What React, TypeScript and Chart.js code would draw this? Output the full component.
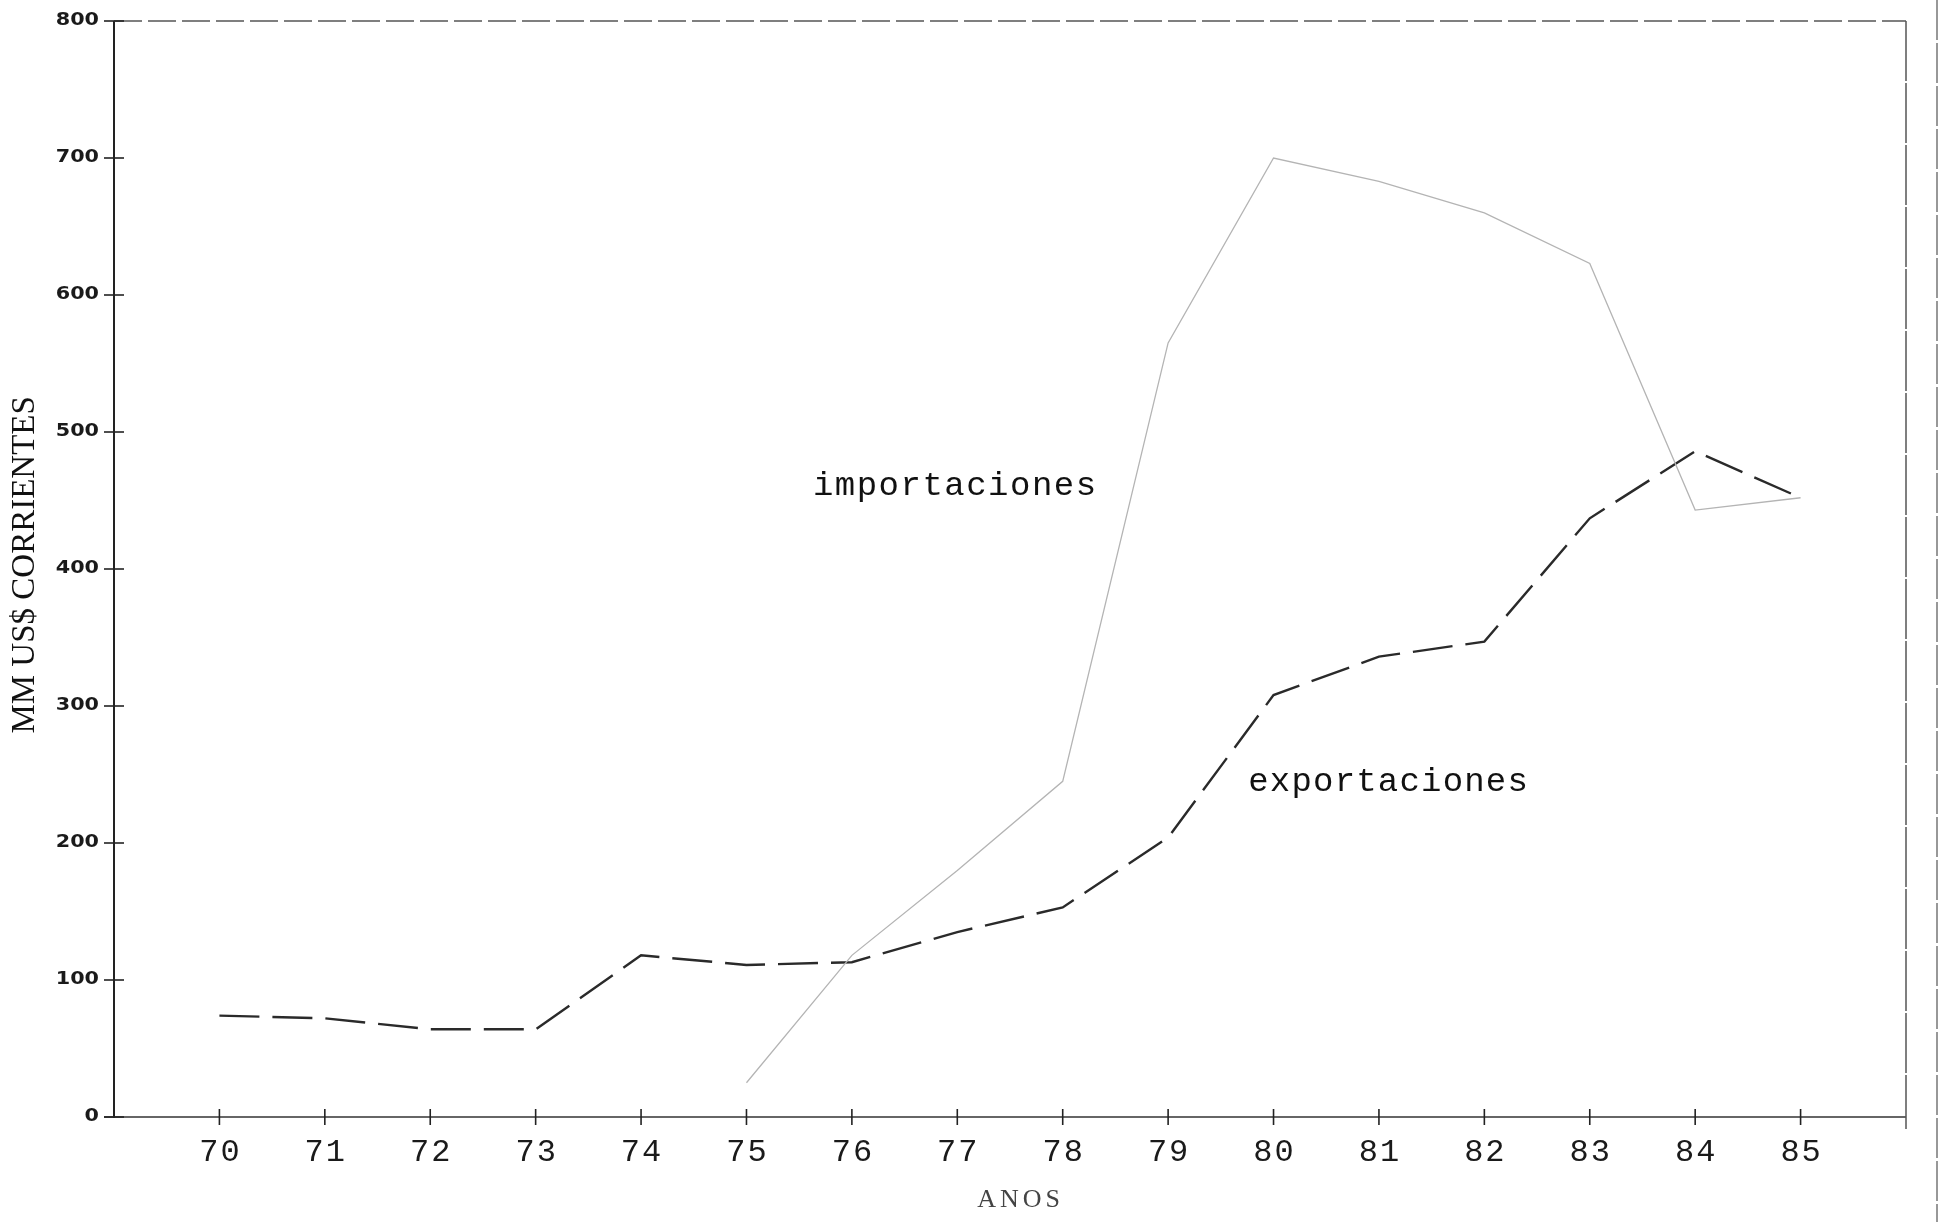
import React, { useEffect, useRef } from 'react';
import { Chart, registerables } from 'chart.js';

Chart.register(...registerables);

// ---- data ----
const years = [70, 71, 72, 73, 74, 75, 76, 77, 78, 79, 80, 81, 82, 83, 84, 85];
const yearLabels = ['70', '71', '72', '73', '74', '75', '76', '77', '78', '79', '80', '81', '82', '83', '84', '85'];
const exportaciones = [74, 72, 64, 64, 118, 111, 113, 135, 153, 204, 308, 336, 347, 437, 486, 452];
const importaciones: (number | null)[] = [null, null, null, null, null, 25, 118, 180, 245, 565, 700, 683, 660, 623, 443, 452];
const yTicks = [0, 100, 200, 300, 400, 500, 600, 700, 800];
const yTickLabels = ['0', '100', '200', '300', '400', '500', '600', '700', '800'];
const seriesNames = ['importaciones', 'exportaciones'];
const yTitle = 'MM US$ CORRIENTES';
const xTitle = 'ANOS';

const W = 1944;
const H = 1222;

const framePlugin = {
  id: 'framePlugin',
  beforeDatasetsDraw(chart: any) {
    const ctx = chart.ctx as CanvasRenderingContext2D;
    const xs = chart.scales.x;
    const ys = chart.scales.y;
    const left = xs.getPixelForValue(69);
    const right = xs.getPixelForValue(86);
    const top = ys.getPixelForValue(800);
    const bottom = ys.getPixelForValue(0);
    ctx.save();
    ctx.lineCap = 'butt';
    // left axis
    ctx.strokeStyle = '#222';
    ctx.lineWidth = 2;
    ctx.beginPath();
    ctx.moveTo(left, top);
    ctx.lineTo(left, bottom + 1);
    ctx.stroke();
    // bottom axis
    ctx.strokeStyle = '#333';
    ctx.lineWidth = 1.6;
    ctx.beginPath();
    ctx.moveTo(left - 10, bottom);
    ctx.lineTo(right, bottom);
    ctx.stroke();
    // top border (dashed)
    ctx.strokeStyle = '#555';
    ctx.lineWidth = 1.3;
    ctx.setLineDash([28, 6]);
    ctx.beginPath();
    ctx.moveTo(left, top);
    ctx.lineTo(right, top);
    ctx.stroke();
    // right border
    ctx.setLineDash([60, 2]);
    ctx.lineWidth = 1.5;
    ctx.beginPath();
    ctx.moveTo(right, top);
    ctx.lineTo(right, bottom + 12);
    ctx.stroke();
    ctx.setLineDash([]);
    // outer frame line of the page
    ctx.strokeStyle = '#777';
    ctx.lineWidth = 1.5;
    ctx.setLineDash([40, 3]);
    ctx.beginPath();
    ctx.moveTo(right + 31, 0);
    ctx.lineTo(right + 31, H);
    ctx.stroke();
    ctx.setLineDash([]);
    // y ticks (crossing)
    ctx.strokeStyle = '#222';
    ctx.lineWidth = 1.6;
    yTicks.forEach((v) => {
      const y = ys.getPixelForValue(v);
      ctx.beginPath();
      ctx.moveTo(left - 10, y);
      ctx.lineTo(left + 10, y);
      ctx.stroke();
    });
    // x ticks (crossing)
    years.forEach((v) => {
      const x = xs.getPixelForValue(v);
      ctx.beginPath();
      ctx.moveTo(x, bottom - 8);
      ctx.lineTo(x, bottom + 8);
      ctx.stroke();
    });
    // y tick labels (wide bold)
    ctx.fillStyle = '#1a1a1a';
    ctx.font = 'bold 17px "DejaVu Sans"';
    ctx.textAlign = 'right';
    ctx.textBaseline = 'middle';
    yTicks.forEach((v, i) => {
      const y = ys.getPixelForValue(v);
      ctx.save();
      ctx.translate(left - 15, y);
      ctx.scale(1.22, 1);
      ctx.fillText(yTickLabels[i], 0, 0);
      ctx.restore();
    });
    // x tick labels
    ctx.fillStyle = '#1a1a1a';
    ctx.font = '32px "Liberation Mono"';
    (ctx as any).letterSpacing = '2px';
    ctx.textAlign = 'center';
    ctx.textBaseline = 'middle';
    years.forEach((v, i) => {
      const x = xs.getPixelForValue(v);
      ctx.fillText(yearLabels[i], x + 1, bottom + 36);
    });
    // x title
    ctx.fillStyle = '#444';
    ctx.font = '26px "Liberation Serif"';
    (ctx as any).letterSpacing = '4px';
    ctx.fillText(xTitle, xs.getPixelForValue(77.6), bottom + 83);
    // y title
    (ctx as any).letterSpacing = '0px';
    ctx.fillStyle = '#111';
    ctx.font = '33px "Liberation Serif"';
    ctx.save();
    ctx.translate(25, ys.getPixelForValue(403));
    ctx.rotate(-Math.PI / 2);
    ctx.textAlign = 'center';
    ctx.textBaseline = 'middle';
    ctx.fillText(yTitle, 0, 0);
    ctx.restore();
    ctx.restore();
  },
  afterDatasetsDraw(chart: any) {
    const ctx = chart.ctx as CanvasRenderingContext2D;
    const xs = chart.scales.x;
    const ys = chart.scales.y;
    ctx.save();
    ctx.fillStyle = '#111';
    ctx.font = '34px "Liberation Mono"';
    ctx.textAlign = 'left';
    ctx.textBaseline = 'alphabetic';
    (ctx as any).letterSpacing = '1.5px';
    ctx.fillText(seriesNames[0], xs.getPixelForValue(75.63), ys.getPixelForValue(454));
    (ctx as any).letterSpacing = '1.2px';
    ctx.fillText(seriesNames[1], xs.getPixelForValue(79.76), ys.getPixelForValue(238));
    ctx.restore();
  },
};

export default function App() {
  const ref = useRef<HTMLCanvasElement | null>(null);
  useEffect(() => {
    if (!ref.current) return;
    const chart = new Chart(ref.current, {
      type: 'line',
      data: {
        datasets: [
          {
            label: seriesNames[0],
            data: years.map((x, i) => ({ x, y: importaciones[i] })) as any,
            borderColor: '#b4b4b4',
            borderWidth: 1.3,
            pointRadius: 0,
            tension: 0,
            fill: false,
          },
          {
            label: seriesNames[1],
            data: years.map((x, i) => ({ x, y: exportaciones[i] })) as any,
            borderColor: '#2a2a2a',
            borderWidth: 2.4,
            borderDash: [40, 13],
            pointRadius: 0,
            tension: 0,
            fill: false,
          },
        ],
      },
      options: {
        animation: false,
        responsive: false,
        devicePixelRatio: 1,
        layout: { padding: { left: 114, right: 38, top: 21, bottom: 105 } },
        plugins: { legend: { display: false }, tooltip: { enabled: false } },
        scales: {
          x: {
            type: 'linear',
            display: false,
            min: 69,
            max: 86,
            ticks: { stepSize: 1 },
          },
          y: {
            type: 'linear',
            display: false,
            min: 0,
            max: 800,
            ticks: { stepSize: 100 },
          },
        },
      },
      plugins: [framePlugin],
    });
    return () => chart.destroy();
  }, []);
  return (
    <div style={{ position: 'absolute', left: 0, top: 0, width: W, height: H, background: '#fff' }}>
      <canvas ref={ref} width={W} height={H} style={{ display: 'block', width: W, height: H }} />
    </div>
  );
}
